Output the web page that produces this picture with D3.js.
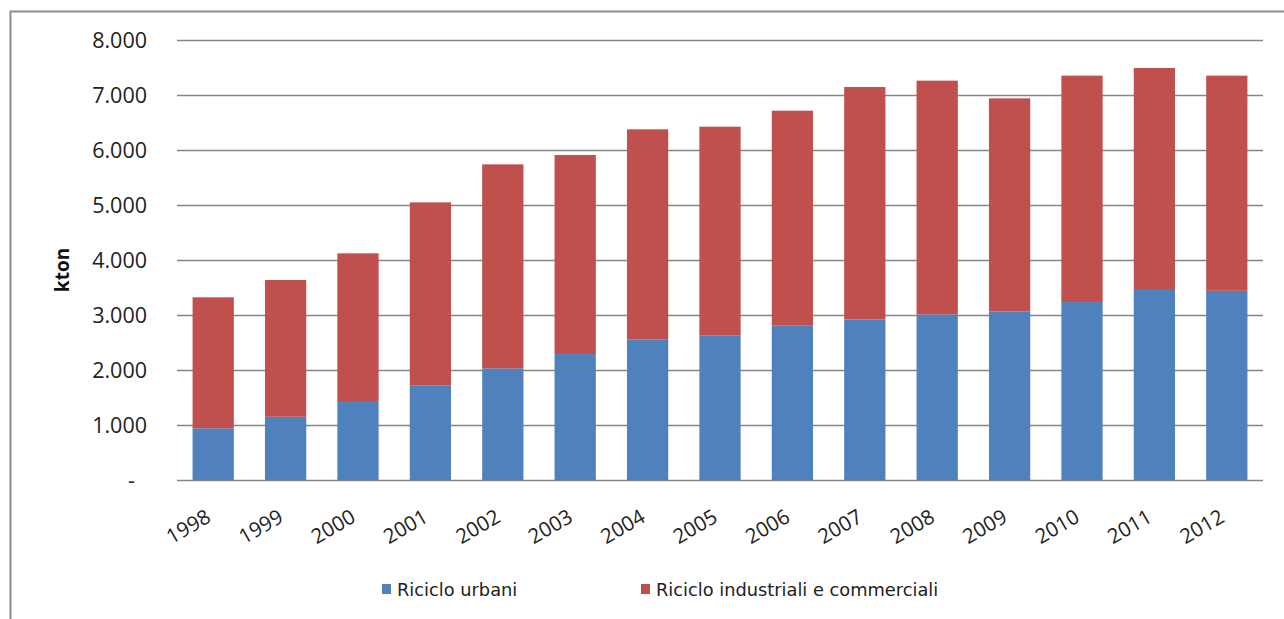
<!DOCTYPE html>
<html><head><meta charset="utf-8">
<script src="https://cdn.jsdelivr.net/npm/d3@7"></script>
<style>body{margin:0;background:#fff}svg{display:block}</style>
</head><body>
<svg id="c" width="1284" height="619"></svg>
<script>
const years = ["1998","1999","2000","2001","2002","2003","2004","2005","2006","2007","2008","2009","2010","2011","2012"];
const urbani = [940,1150,1436,1715,2030,2290,2558,2624,2806,2921,3012,3065,3235,3455,3440];
const totale = [3322,3636,4121,5048,5739,5909,6376,6424,6715,7145,7261,6939,7352,7491,7352];
const industriali = totale.map((t,i)=>t-urbani[i]);
const yTicks = [0,1000,2000,3000,4000,5000,6000,7000,8000];
const seriesNames = ["Riciclo urbani","Riciclo industriali e commerciali"];
const colors = ["#4F81BD","#C0504D"];

const svg = d3.select("#c");
// frame
svg.append("path").attr("d","M10.5,619 V11.5 H1284").attr("fill","none").attr("stroke","#8c8c8c").attr("stroke-width",2);

const x = d3.scaleBand().domain(years).range([177,1263]).paddingInner(0.43).paddingOuter(0.215);
const y = d3.scaleLinear().domain([0,8000]).range([480,40]);

// gridlines
svg.append("g").selectAll("line").data(yTicks).join("line")
  .attr("x1",177).attr("x2",1263).attr("y1",d=>Math.round(y(d))+0.5).attr("y2",d=>Math.round(y(d))+0.5)
  .attr("stroke","#868686").attr("stroke-width",1.5);

const fmt = d => d===0 ? "-" : d3.format(",")(d).replace(/,/g,".");
const yAxis = d3.axisLeft(y).tickValues(yTicks).tickFormat(fmt).tickSize(0).tickPadding(0);
const ga = svg.append("g").attr("transform","translate(147,0)").call(yAxis);
ga.select(".domain").remove();
ga.selectAll("text").attr("font-family","'Open Sans', sans-serif").attr("font-size",21.5).attr("fill","#222").attr("dy","0.35em")
  .filter(d=>d===0).attr("dx",-12);

svg.append("text").attr("transform","translate(69,270) rotate(-90)").attr("text-anchor","middle")
  .attr("font-family","'Open Sans', sans-serif").attr("font-weight","bold").attr("font-size",19).attr("fill","#111").text("kton");

const stack = d3.stack().keys([0,1]).value((d,k)=>k===0?urbani[d]:industriali[d]);
const layers = stack(d3.range(years.length));
svg.append("g").selectAll("g").data(layers).join("g").attr("fill",(d,i)=>colors[i])
  .selectAll("rect").data(d=>d).join("rect")
  .attr("x",(d,i)=>x(years[i])).attr("width",x.bandwidth())
  .attr("y",d=>y(d[1])).attr("height",d=>y(d[0])-y(d[1]));

// x axis labels
const xAxis = d3.axisBottom(x).tickSize(0).tickPadding(0);
const gx = svg.append("g").attr("transform","translate(0,481)").call(xAxis);
gx.select(".domain").remove();
gx.selectAll("text").attr("font-family","'Open Sans', sans-serif").attr("font-size",20.5).attr("fill","#222")
  .attr("text-anchor","end").attr("dy",0).attr("y",0)
  .attr("transform","translate(-1,40) rotate(-30)");

// legend
const leg = svg.append("g");
const lx = [382,641];
seriesNames.forEach((n,i)=>{
  leg.append("rect").attr("x",lx[i]).attr("y",584).attr("width",9).attr("height",10).attr("fill",colors[i]);
  leg.append("text").attr("x",lx[i]+15).attr("y",596).attr("font-family","'DejaVu Sans', sans-serif")
    .attr("font-size",17.8).attr("fill","#222").text(n);
});
</script>
</body></html>
